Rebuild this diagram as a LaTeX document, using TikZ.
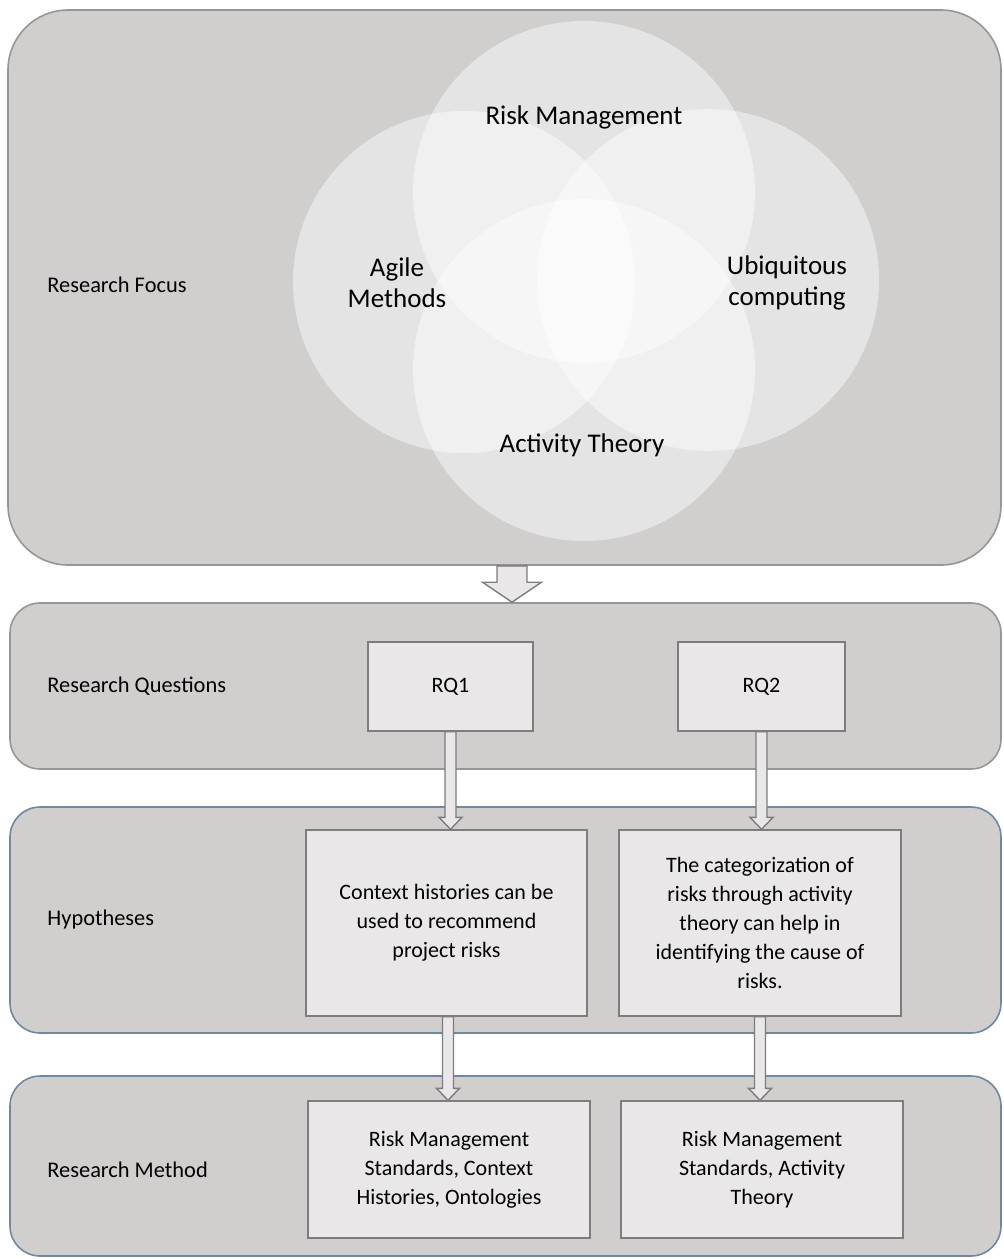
\documentclass[tikz,border=0pt]{standalone}
\usepackage{fontspec}
\setmainfont{Carlito}
\usetikzlibrary{calc}

\definecolor{panelgray}{RGB}{209,206,206}
\definecolor{boxgray}{RGB}{233,231,231}
\definecolor{edgegray}{RGB}{125,125,125}
\definecolor{paneledge}{RGB}{150,150,150}
\definecolor{blueedge}{RGB}{112,136,160}

\tikzset{
  panel/.style={draw=paneledge, fill=panelgray, line width=0.8pt, rounded corners=15pt, inner sep=0pt},
  hbox/.style={draw=edgegray, fill=boxgray, line width=0.7pt, align=center, inner sep=2pt,
    font=\fontsize{11}{14.5}\selectfont},
  rowlabel/.style={anchor=west, inner sep=0pt, font=\fontsize{11.2}{13}\selectfont},
  venn/.style={circle, fill=white, fill opacity=0.45, minimum size=171pt, inner sep=0pt},
  vennlabel/.style={align=center, font=\fontsize{13.5}{15.5}\selectfont, text=black},
  blockarrow/.style={draw=edgegray, fill=boxgray, line width=0.7pt, line join=miter}
}

% from, to, x shift, shaft half width, head half width, head length
\newcommand{\blockarrow}[6]{%
  \draw[blockarrow] let \p1=($(#1.south)+(#3,0)$), \p2=(#2.north) in
    (\x1-#4,\y1) -- (\x1-#4,\y2+#6) -- (\x1-#5,\y2+#6) -- (\x1,\y2)
    -- (\x1+#5,\y2+#6) -- (\x1+#4,\y2+#6) -- (\x1+#4,\y1) -- cycle;}

\begin{document}
\begin{tikzpicture}[x=0.5pt, y=-0.5pt]
  \useasboundingbox (0,0) rectangle (1003,1259);

  \node[panel, rounded corners=30pt, minimum width=496.5pt, minimum height=277.5pt] (focus) at (504.5,287.5) {};
  \node[panel, minimum width=495.5pt, minimum height=83pt] (questions) at (505.5,686) {};
  \node[panel, draw=blueedge, minimum width=495.5pt, minimum height=113pt] (hypo) at (505.5,920) {};
  \node[panel, draw=blueedge, minimum width=495.5pt, minimum height=90pt] (method) at (505.5,1166) {};

  \foreach \cx/\cy/\nm in {584/192/rmc, 464/282/amc, 708/280/ucc, 584/370/atc} {
    \node[venn] (\nm) at (\cx,\cy) {};
  };

  \node[vennlabel] (rmtext) at (584,117) {Risk Management};
  \node[vennlabel] (amtext) at (397,283) {Agile\\Methods};
  \node[vennlabel] (uctext) at (787,283) {Ubiquitous\\computing};
  \node[vennlabel] (attext) at (582,445) {Activity Theory};

  \node[rowlabel] (focuslabel) at (47,285) {Research Focus};
  \node[rowlabel] (questionslabel) at (47,686) {Research Questions};
  \node[rowlabel] (hypolabel) at (47,920) {Hypotheses};
  \node[rowlabel] (methodlabel) at (47,1170) {Research Method};

  \node[hbox, minimum width=82.5pt, minimum height=44.5pt] (rq1) at (450.5,686.5) {RQ1};
  \node[hbox, minimum width=83.5pt, minimum height=44.5pt] (rq2) at (761.5,686.5) {RQ2};

  \node[hbox, minimum width=140.5pt, minimum height=93pt] (h1) at (446.5,923)
    {Context histories can be\\used to recommend\\project risks};
  \node[hbox, minimum width=141pt, minimum height=93pt] (h2) at (760,923)
    {The categorization of\\risks through activity\\theory can help in\\identifying the cause of\\risks.};

  \node[hbox, minimum width=141pt, minimum height=68.5pt] (m1) at (449,1169.5)
    {Risk Management\\Standards, Context\\Histories, Ontologies};
  \node[hbox, minimum width=141pt, minimum height=68.5pt] (m2) at (762,1169.5)
    {Risk Management\\Standards, Activity\\Theory};

  \blockarrow{focus}{questions}{3.75pt}{7.5pt}{14.75pt}{10pt}
  \blockarrow{rq1}{h1}{0pt}{2.75pt}{5.75pt}{6pt}
  \blockarrow{rq2}{h2}{0pt}{2.75pt}{5.75pt}{6pt}
  \blockarrow{h1}{m1}{0.75pt}{2.75pt}{5.75pt}{6pt}
  \blockarrow{h2}{m2}{0pt}{2.75pt}{5.75pt}{6pt}
\end{tikzpicture}
\end{document}
